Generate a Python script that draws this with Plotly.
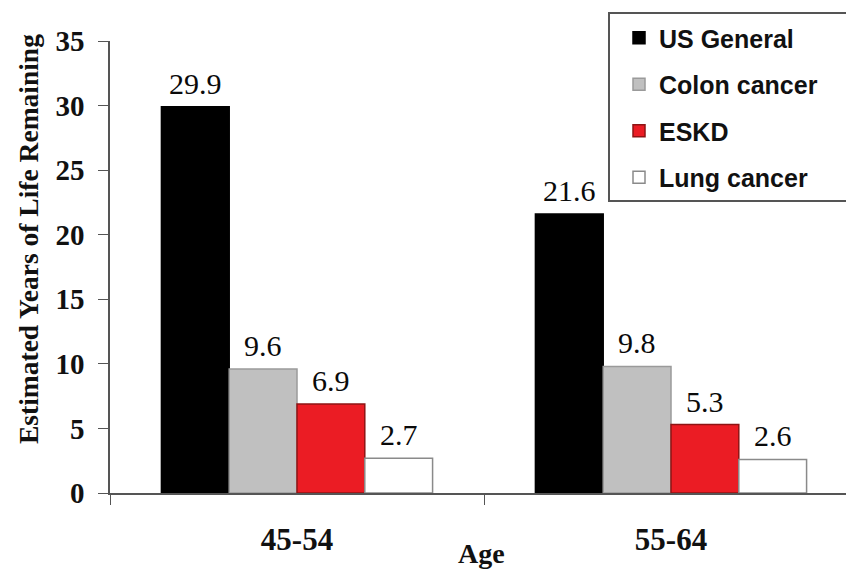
import plotly.graph_objects as go

# Age groups and estimated remaining years of life for each population
age_groups = ["45-54", "55-64"]
series_names = ["US General", "Colon cancer", "ESKD", "Lung cancer"]
us_general = [29.9, 21.6]
colon_cancer = [9.6, 9.8]
eskd = [6.9, 5.3]
lung_cancer = [2.7, 2.6]
y_ticks = [0, 5, 10, 15, 20, 25, 30, 35]

series_values = [us_general, colon_cancer, eskd, lung_cancer]
fill_colors = ["#000000", "#c0c0c0", "#eb1c24", "#ffffff"]
edge_colors = ["#000000", "#9a9a9a", "#8e1414", "#8a8a8a"]

BAR_GAP = 0.275
n_series = len(series_names)
bar_w = (1 - BAR_GAP) / n_series

serif = "Liberation Serif"
sans = "Liberation Sans"

# plot area in pixels: x from 110 to 846, y from 41 (top) to 493 (bottom)
PX_L, PX_W, PX_B, PX_H = 110, 736, 493, 452


def px_x(px):
    return (px - PX_L) / PX_W


def px_y(py):
    return (PX_B - py) / PX_H


fig = go.Figure()
for i, (name, vals) in enumerate(zip(series_names, series_values)):
    fig.add_trace(go.Bar(
        x=age_groups, y=vals, name=name, legendgroup=name,
        marker=dict(color=fill_colors[i], line=dict(color=edge_colors[i], width=1.5)),
        hovertemplate=name + ": %{y}<extra></extra>",
    ))
    # value labels above each bar
    offset = (i - (n_series - 1) / 2) * bar_w
    for j, v in enumerate(vals):
        fig.add_annotation(
            x=j + offset, y=v, text=f"{v:.1f}", showarrow=False,
            xref="x", yref="y", yanchor="bottom", yshift=5,
            font=dict(family=serif, size=30, color="#0a0a0a"),
        )

# axis titles
fig.add_annotation(
    text="<b>Estimated Years of Life Remaining</b>", textangle=-90,
    xref="paper", yref="paper", x=px_x(28), y=px_y(239),
    xanchor="center", yanchor="middle", showarrow=False,
    font=dict(family=serif, size=27.5, color="#111111"),
)
fig.add_annotation(
    text="<b>Age</b>", xref="paper", yref="paper", x=px_x(481), y=px_y(553),
    xanchor="center", yanchor="middle", showarrow=False,
    font=dict(family=serif, size=28, color="#111111"),
)

# legend frame, running on past the right edge of the page
fig.add_shape(
    type="rect", xref="paper", yref="paper", layer="below",
    x0=px_x(609), x1=px_x(870), y0=px_y(201), y1=px_y(13),
    line=dict(color="#555555", width=2), fillcolor="#ffffff",
)

fig.update_layout(
    width=846, height=575,
    margin=dict(l=110, r=0, t=41, b=82, autoexpand=False),
    paper_bgcolor="#ffffff", plot_bgcolor="#ffffff",
    barmode="group", bargap=BAR_GAP, bargroupgap=0,
    showlegend=True,
    legend=dict(
        x=px_x(609), y=px_y(13), xanchor="left", yanchor="top",
        bgcolor="rgba(0,0,0,0)", borderwidth=2, bordercolor="rgba(0,0,0,0)",
        font=dict(family=sans, size=25, color="#111111", weight="bold"),
        tracegroupgap=11, traceorder="grouped", indentation=8,
    ),
    xaxis=dict(
        type="category", range=[-0.5, -0.5 + PX_W / 374],
        showline=True, linecolor="#555555", linewidth=1.5,
        ticks="outside", tickson="boundaries", ticklen=10, tickcolor="#555555",
        tickfont=dict(family=serif, size=31, color="#111111", weight="bold"),
        ticklabelstandoff=18, showgrid=False, zeroline=False,
    ),
    yaxis=dict(
        range=[0, 35], tickvals=y_ticks,
        showline=True, linecolor="#555555", linewidth=1.5,
        ticks="outside", ticklen=10, tickcolor="#555555",
        tickfont=dict(family=serif, size=29, color="#111111", weight="bold"),
        ticklabelstandoff=8, showgrid=False, zeroline=False,
    ),
)

fig.write_html("out.html")
